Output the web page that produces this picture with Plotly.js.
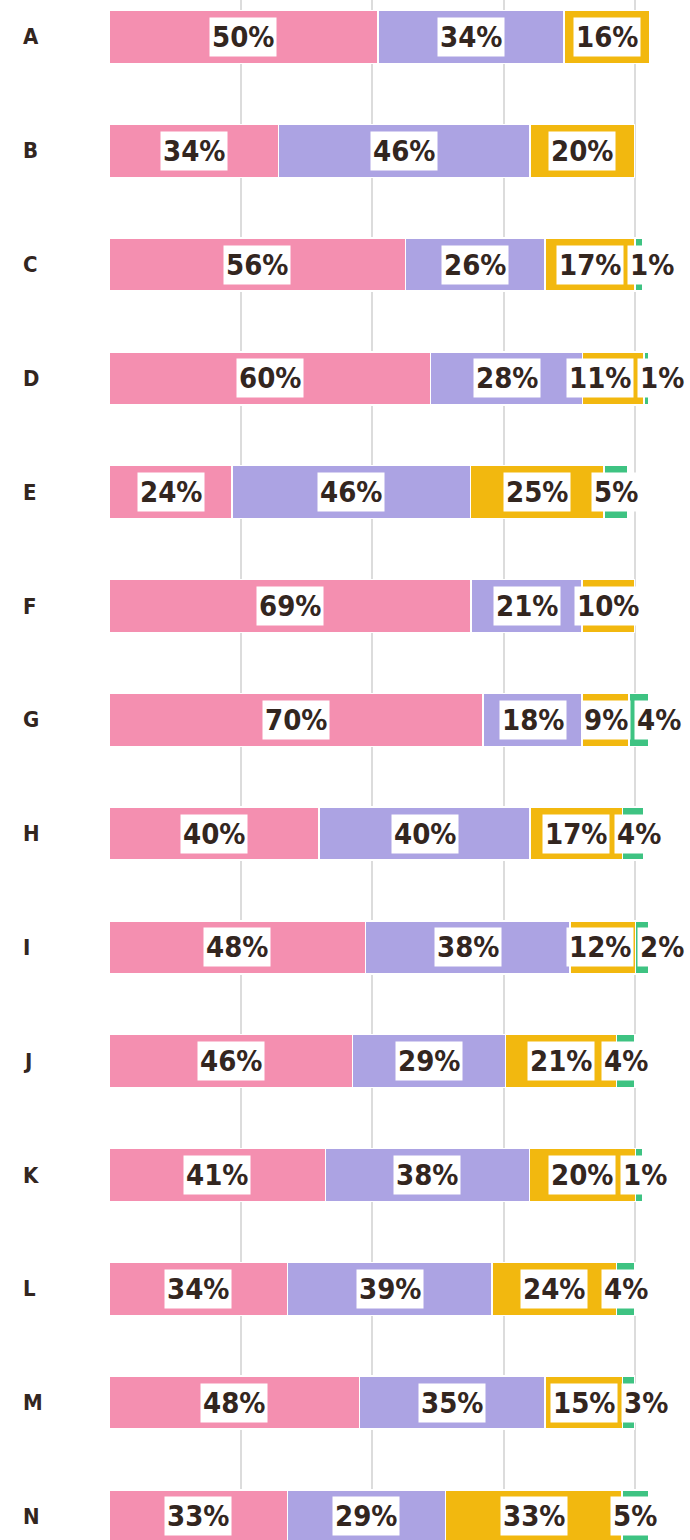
<!DOCTYPE html>
<html>
<head>
<meta charset="utf-8">
<script src="https://cdn.plot.ly/plotly-3.0.1.min.js"></script>
<style>
  body { margin: 0; background: #fff; }
  #chart { width: 690px; height: 1540px; }
</style>
</head>
<body>
<div id="chart"></div>
<script>
// categories and series
var cats = ['A', 'B', 'C', 'D', 'E', 'F', 'G', 'H', 'I', 'J', 'K', 'L', 'M', 'N'];

// bar lengths as drawn
var pink   = [51.1, 32.2, 56.3, 61.1, 23.4, 68.8, 71.1, 39.9, 48.7, 46.3, 41.1, 33.9, 47.6, 33.9];
var purple = [35.3, 47.8, 26.5, 28.9, 45.3, 21.1, 18.8, 40.1, 38.9, 29.0, 38.8, 38.9, 35.2, 30.0];
var yellow = [16.3, 19.8, 17.1, 11.6, 25.3, 9.9, 8.9, 17.6, 12.4, 21.1, 20.1, 23.6, 14.8, 33.6];
var green  = [0, 0, 1.5, 1.0, 4.6, 0, 3.8, 3.9, 2.6, 3.5, 1.4, 3.5, 2.2, 5.0];

// printed labels (percent)
var pinkPct   = [50, 34, 56, 60, 24, 69, 70, 40, 48, 46, 41, 34, 48, 33];
var purplePct = [34, 46, 26, 28, 46, 21, 18, 40, 38, 29, 38, 39, 35, 29];
var yellowPct = [16, 20, 17, 11, 25, 10, 9, 17, 12, 21, 20, 24, 15, 33];
var greenPct  = [null, null, 1, 1, 5, null, 4, 4, 2, 4, 1, 4, 3, 5];

var colors = ['#f48fb0', '#aca3e3', '#f2b80f', '#3ec382'];
var series = [pink, purple, yellow, green];
var pcts = [pinkPct, purplePct, yellowPct, greenPct];

var textColor = '#33261f';
var labelFont = 'DejaVu Sans Condensed, sans-serif';

var data = series.map(function (vals, k) {
  return {
    type: 'bar',
    orientation: 'h',
    y: cats,
    x: vals,
    marker: { color: colors[k], line: { color: '#ffffff', width: 1.5 } },
    hoverinfo: 'none',
    showlegend: false
  };
});

// label placement: centre of segment, nudged so boxes don't collide
var pxPerUnit = 579 / 110;
var maxX = 109.6;
var gap = 1;
var annotations = [];

cats.forEach(function (c, i) {
  var items = [];
  var start = 0;
  for (var k = 0; k < 4; k++) {
    var v = series[k][i];
    var p = pcts[k][i];
    if (p !== null && v > 0) {
      var txt = p + '%';
      var w = (txt.length * 18 + 12) / pxPerUnit;
      items.push({ text: txt, center: start + v / 2, w: w });
    }
    start += v;
  }
  for (var j = 1; j < items.length; j++) {
    var prev = items[j - 1];
    var minC = prev.center + prev.w / 2 + gap + items[j].w / 2;
    if (items[j].center < minC) items[j].center = minC;
  }
  var last = items[items.length - 1];
  if (last.center + last.w / 2 > maxX) last.center = maxX - last.w / 2;
  for (var j = items.length - 2; j >= 0; j--) {
    var next = items[j + 1];
    var maxC = next.center - next.w / 2 - gap - items[j].w / 2;
    if (items[j].center > maxC) items[j].center = maxC;
  }
  items.forEach(function (it) {
    annotations.push({
      x: it.center, y: c, xref: 'x', yref: 'y',
      text: it.text, showarrow: false,
      bgcolor: '#ffffff', borderpad: 2,
      font: { family: labelFont, size: 29, color: textColor, weight: 'bold' }
    });
  });
  annotations.push({
    x: -0.152, y: c, xref: 'paper', yref: 'y', xanchor: 'left',
    text: c, showarrow: false,
    font: { family: labelFont, size: 22, color: textColor, weight: 'bold' }
  });
});

var layout = {
  width: 690,
  height: 1540,
  margin: { l: 109, r: 2, t: 0, b: 0 },
  barmode: 'stack',
  bargap: 0.534,
  paper_bgcolor: '#ffffff',
  plot_bgcolor: '#ffffff',
  xaxis: {
    range: [0, 110],
    tickvals: [25, 50, 75, 100],
    showticklabels: false,
    showgrid: true,
    gridcolor: '#dcdcdc',
    gridwidth: 2,
    zeroline: false,
    showline: false,
    fixedrange: true
  },
  yaxis: {
    type: 'category',
    range: [13.207, -0.325],
    showticklabels: false,
    showgrid: false,
    zeroline: false,
    showline: false,
    fixedrange: true
  },
  annotations: annotations
};

Plotly.newPlot('chart', data, layout, { displayModeBar: false, staticPlot: true });
</script>
</body>
</html>
